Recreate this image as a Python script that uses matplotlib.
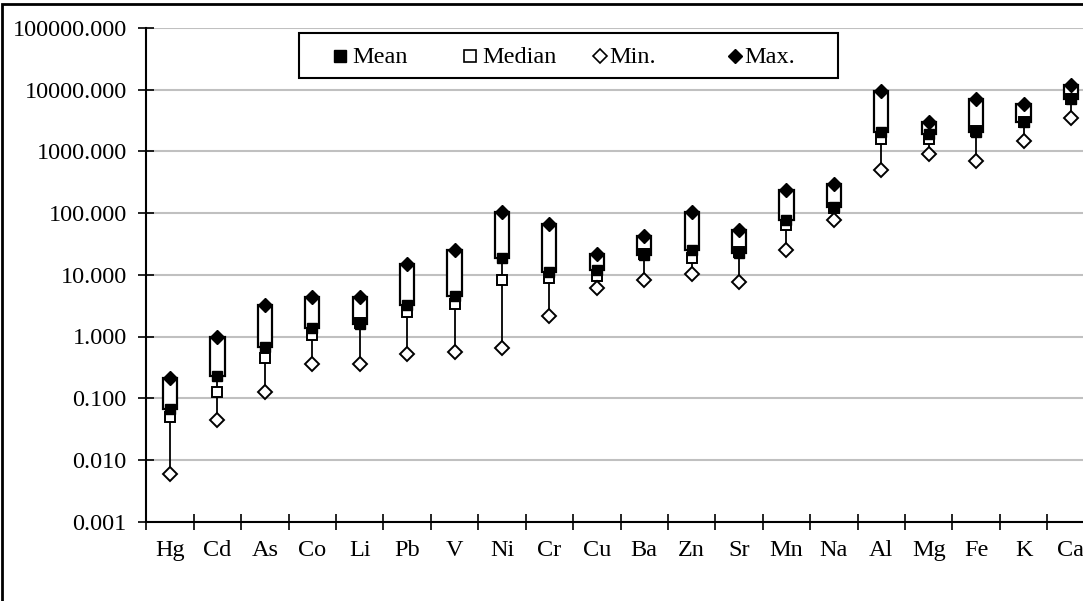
import numpy as np
import matplotlib
matplotlib.use("Agg")
import matplotlib.pyplot as plt
from matplotlib.lines import Line2D
from matplotlib.patches import Rectangle
from matplotlib.ticker import FixedLocator, FixedFormatter, NullFormatter

plt.rcParams['font.family'] = ['Liberation Serif', 'DejaVu Serif']

# element concentrations
elements = ['Hg', 'Cd', 'As', 'Co', 'Li', 'Pb', 'V', 'Ni', 'Cr', 'Cu',
            'Ba', 'Zn', 'Sr', 'Mn', 'Na', 'Al', 'Mg', 'Fe', 'K', 'Ca']
mean_vals = [0.066, 0.23, 0.67, 1.35, 1.6, 3.3, 4.5, 19.0, 11.0, 11.8,
             21.0, 25.0, 22.5, 76.0, 125.0, 2050, 1900, 2100, 2950, 7000]
median_vals = [0.049, 0.125, 0.45, 1.06, 1.65, 2.45, 3.4, 8.3, 9.0, 9.6,
               22.0, 19.0, 23.0, 63.0, 122.0, 1600, 1560, 2150, 3000, 7200]
min_vals = [0.006, 0.045, 0.125, 0.36, 0.36, 0.52, 0.56, 0.65, 2.15, 6.1,
            8.2, 10.2, 7.7, 25.0, 77.0, 505, 920, 690, 1450, 3500]
max_vals = [0.21, 1.0, 3.2, 4.3, 4.3, 15.0, 25.0, 103.0, 67.0, 21.5,
            42.0, 105.0, 54.0, 235.0, 300.0, 9400, 3050, 7000, 5900, 12000]
series_names = ['Mean', 'Median', 'Min.', 'Max.']

yticks = [0.001, 0.01, 0.1, 1, 10, 100, 1000, 10000, 100000]
ytick_labels = ['%.3f' % v for v in yticks]

W, H = 1083, 601
FS = 17.5
fig = plt.figure(figsize=(W / 100, H / 100), dpi=100)
ax = fig.add_axes([146.3 / W, 1 - 521.6 / H, 948.4 / W, (521.6 - 28) / H])

x = np.arange(len(elements))
mean_a = np.array(mean_vals)
max_a = np.array(max_vals)

# high-low line, then the box from mean up to max
ax.vlines(x, min_vals, max_vals, color='black', lw=1.3, zorder=3)
ax.bar(x, max_a - mean_a, bottom=mean_a, width=0.3, color='white',
       edgecolor='black', linewidth=1.6, zorder=4)

ax.plot(x, median_vals, 's', ms=7.5, mfc='white', mec='black', mew=1.4, ls='none', zorder=5)
ax.plot(x, mean_vals, 's', ms=7.5, mfc='black', mec='black', ls='none', zorder=6)
ax.plot(x, min_vals, 'D', ms=7.5, mfc='white', mec='black', mew=1.4, ls='none', zorder=6)
ax.plot(x, max_vals, 'D', ms=7.5, mfc='black', mec='black', ls='none', zorder=7)

ax.set_yscale('log')
ax.set_ylim(0.001, 100000)
ax.set_xlim(-0.5, len(elements) - 0.5)
ax.yaxis.set_major_locator(FixedLocator(yticks))
ax.yaxis.set_major_formatter(FixedFormatter(ytick_labels))
ax.yaxis.set_minor_locator(FixedLocator([]))
ax.grid(axis='y', color='#c0c0c0', lw=1.5, zorder=0)
ax.set_axisbelow(True)

# category boundaries as major ticks, names on minor ticks
ax.xaxis.set_major_locator(FixedLocator(np.arange(len(elements) + 1) - 0.5))
ax.xaxis.set_major_formatter(NullFormatter())
ax.xaxis.set_minor_locator(FixedLocator(x))
ax.xaxis.set_minor_formatter(FixedFormatter(elements))
ax.tick_params(axis='x', which='major', direction='inout', length=12, width=1.2)
ax.tick_params(axis='x', which='minor', length=0, pad=13, labelsize=FS)
ax.tick_params(axis='y', direction='inout', length=12, width=1.2, labelsize=FS, pad=8)

for s in ['top', 'right']:
    ax.spines[s].set_visible(False)
for s in ['left', 'bottom']:
    ax.spines[s].set_linewidth(1.5)

# legend drawn by hand so the entries sit at equal pitch like the original
def fx(px):
    return px / W

def fy(py):
    return 1 - py / H

fig.patches.append(Rectangle((fx(299), fy(78)), fx(838) - fx(299), fy(33) - fy(78),
                             transform=fig.transFigure, fill=False,
                             edgecolor='black', lw=1.5))
leg_styles = [dict(marker='s', mfc='black', mec='black', ms=8),
              dict(marker='s', mfc='white', mec='black', mew=1.2, ms=8),
              dict(marker='D', mfc='white', mec='black', mew=1.2, ms=7.5),
              dict(marker='D', mfc='black', mec='black', ms=7.5)]
leg_marker_x = [340, 470, 600, 735]
leg_text_gap = [12, 12, 9, 9]
for name, style, mx, gap in zip(series_names, leg_styles, leg_marker_x, leg_text_gap):
    fig.add_artist(Line2D([fx(mx)], [fy(56)], ls='none',
                          transform=fig.transFigure, **style))
    fig.text(fx(mx + gap), fy(63), name, fontsize=FS, va='baseline', ha='left')

# outer chart border (cut off on the right and bottom)
fig.patches.append(Rectangle((2 / W, -0.05), 1.2, 1 - 4 / H + 0.05,
                             transform=fig.transFigure, fill=False,
                             edgecolor='black', lw=2))

fig.savefig('out.png', dpi=100)
